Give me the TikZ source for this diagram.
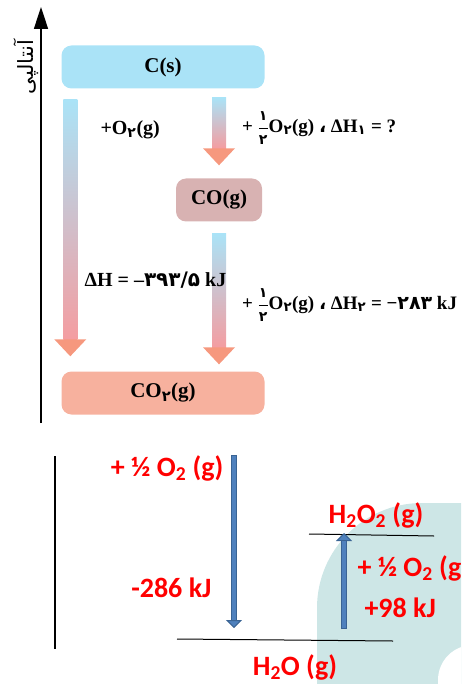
\documentclass[tikz,border=0pt]{standalone}
\usepackage{fontspec}
\usepackage{tikz}
\usetikzlibrary{calc,arrows.meta}
\setmainfont{Liberation Serif}
\newfontfamily\fafont[Script=Arabic]{DejaVu Sans}
\newfontfamily\calib{Carlito}
\TeXXeTstate=1
\definecolor{skyb}{HTML}{AAE3F7}
\definecolor{rosy}{HTML}{F49DA1}
\definecolor{salm}{HTML}{F6987E}
\definecolor{mauve}{HTML}{D8B2B2}
\definecolor{peach}{HTML}{F7B19E}
\definecolor{steel}{HTML}{4F81BD}
\definecolor{steeld}{HTML}{3A6494}
\definecolor{paleteal}{HTML}{CDE6E6}
\newcommand{\fa}[1]{{\fafont #1}}
\newcommand{\hlf}{$\displaystyle\frac{\mbox{\fafont\fontsize{14}{14}\selectfont ۱}}{\mbox{\fafont\fontsize{14}{14}\selectfont ۲}}$}
\newcommand{\garr}[2]{\shade[top color=skyb,bottom color=rosy] ($(#1)+(-7,0)$) rectangle ($(#2)+(7,-17)$); \fill[salm] ($(#2)+(-16,-17)$) -- ($(#2)+(16,-17)$) -- (#2) -- cycle;}
\tikzset{lvl/.style={rounded corners=10pt,minimum height=43pt,font=\bfseries\fontsize{21}{24}\selectfont},
  lab/.style={font=\bfseries\fontsize{20}{23}\selectfont},
  qlab/.style={anchor=west,inner sep=0pt,font=\bfseries\fontsize{19}{22}\selectfont},
  rlab/.style={red,font=\calib\bfseries\fontsize{28}{32}\selectfont},
  barr/.style={steeld,line width=6.5pt,-{Triangle[width=16pt,length=8pt,fill=steel,line width=1pt]}},
  bin/.style={steel,line width=4.5pt,shorten >=8pt,shorten <=1pt}}

\begin{document}
\begin{tikzpicture}[x=1pt,y=-1pt]
\useasboundingbox (0,0) rectangle (461,684); \clip (0,0) rectangle (461,684);
\fill[paleteal] (317,690) -- (317,608) arc[start angle=180,end angle=270,radius=105] -- (470,503) -- (470,690) -- cycle;
\fill[white] (438,690) -- (438,680) arc[start angle=180,end angle=270,radius=35] -- (480,645) -- (480,690) -- cycle;
\coordinate (ax0) at (41,423); \coordinate (ax1) at (41,7);
\draw[line width=1.6pt,-{Triangle[width=14pt,length=22pt]}] (ax0) -- (ax1);
\node[rotate=90] (ylab) at (26,67) {\fafont\fontsize{21}{21}\selectfont\beginR آنتالپی\endR};
\node[lvl,fill=skyb,minimum width=203pt] (cs) at (163,67) {C(s)};
\node[lvl,fill=mauve,minimum width=86pt] (co) at (219,200) {CO(g)};
\node[lvl,fill=peach,minimum width=203pt] (co2) at (163,393) {CO\textsubscript{\fa{۲}}(g)};
\coordinate (l0) at ($(cs.south west)+(9,11)$); \coordinate (l1) at ($(co2.north west)+(9,-15)$);
\coordinate (r0) at ($(cs.south)+(56,9)$); \coordinate (r1) at ($(co.north)+(0,-13)$);
\coordinate (s0) at ($(co.south)+(0,12)$); \coordinate (s1) at ($(co2.north)+(56,-7)$);
\garr{l0}{l1} \garr{r0}{r1} \garr{s0}{s1}
\node[lab,anchor=west] (o2) at (97,130) {+O\textsubscript{\fa{۲}}(g)};
\node[qlab] (q1) at (242,128) {+ \hlf O\textsubscript{\fa{۲}}(g) \fa{،} ΔH\textsubscript{\fa{۱}} = ?};
\node[lab,anchor=west] (dh) at (81,280) {ΔH = –\fa{۳۹۳/۵} kJ};
\node[qlab] (q2) at (242,305) {+ \hlf O\textsubscript{\fa{۲}}(g) \fa{،} ΔH\textsubscript{\fa{۲}} = −\fa{۲۸۳} kJ};
\coordinate (b0) at (55,456); \coordinate (b1) at (55,649);
\draw[line width=2pt] (b0) -- (b1);
\coordinate (wl) at (177,639); \coordinate (wr) at (393,641); \draw[line width=1pt] (wl) -- (wr);
\coordinate (hl) at (309,534); \coordinate (hr) at (434,536); \draw[line width=1pt] (hl) -- (hr);
\coordinate (d0) at (234,455); \coordinate (d1) at (234,628);
\coordinate (u0) at (344,629); \coordinate (u1) at (344,533);
\draw[barr] (d0) -- (d1); \draw[bin] (d0) -- (d1);
\draw[barr] (u0) -- (u1); \draw[bin] (u0) -- (u1);
\node[rlab,anchor=east] (o2a) at (227,468) {+ ½ O\textsubscript{2} (g)};
\node[rlab,anchor=east] (e1) at (215,588) {-286 kJ};
\node[rlab] (w) at (295,667) {H\textsubscript{2}O (g)};
\node[rlab] (hp) at (376,515) {H\textsubscript{2}O\textsubscript{2} (g)};
\node[rlab,anchor=west] (o2b) at (354,568) {+ ½ O\textsubscript{2} (g)};
\node[rlab,anchor=west] (e2) at (361,608) {+98 kJ};
\end{tikzpicture}
\end{document}
